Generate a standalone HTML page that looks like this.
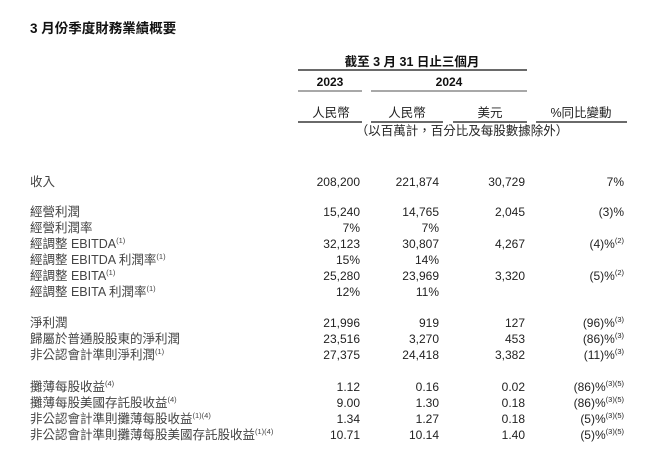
<!DOCTYPE html>
<html>
<head>
<meta charset="utf-8">
<style>
  html,body{margin:0;padding:0;background:#fff;}
  body{width:660px;height:450px;position:relative;overflow:hidden;
    font-family:"Liberation Sans","Noto Sans CJK TC","Noto Sans CJK SC",sans-serif;color:#2a2a2a;}
  .a{position:absolute;white-space:nowrap;line-height:16px;height:16px;}
  .lab{left:30px;font-size:12.5px;color:#444;}
  .n{font-size:12px;color:#222;text-align:right;}
  .c1{right:300px;}
  .c2{right:221px;}
  .c3{right:135px;}
  .c4{right:36px;}
  sup{font-size:7.5px;line-height:0;vertical-align:0;position:relative;top:-5px;}
  .ln{position:absolute;height:2px;}
  .dk{background:#6a6a6a;}
  .lt{background:#a8a8a8;}
  .ctr{transform:translateX(-50%);text-align:center;}
</style>
</head>
<body>
<div class="a" style="left:30px;top:21px;font-size:13.5px;font-weight:bold;color:#111;">3 月份季度財務業績概要</div>

<div class="a ctr" style="left:412px;top:54px;font-size:12.5px;font-weight:bold;color:#111;">截至 3 月 31 日止三個月</div>
<div class="ln dk" style="left:298px;width:229px;top:69px;"></div>

<div class="a ctr" style="left:330px;top:74px;font-size:12px;font-weight:bold;color:#111;">2023</div>
<div class="a ctr" style="left:449px;top:74px;font-size:12px;font-weight:bold;color:#111;">2024</div>
<div class="ln lt" style="left:298px;width:64px;top:90px;"></div>
<div class="ln lt" style="left:371px;width:156px;top:90px;"></div>

<div class="a ctr" style="left:331px;top:105px;font-size:12.5px;color:#222;">人民幣</div>
<div class="a ctr" style="left:407px;top:105px;font-size:12.5px;color:#222;">人民幣</div>
<div class="a ctr" style="left:490px;top:105px;font-size:12.5px;color:#222;">美元</div>
<div class="a ctr" style="left:581px;top:105px;font-size:12.5px;color:#222;">%同比變動</div>
<div class="ln dk" style="left:298px;width:64px;top:121px;"></div>
<div class="ln dk" style="left:371px;width:72px;top:121px;"></div>
<div class="ln dk" style="left:453px;width:74px;top:121px;"></div>
<div class="ln dk" style="left:536px;width:91px;top:121px;"></div>

<div class="a ctr" style="left:462px;top:123px;font-size:12.5px;color:#222;">（以百萬計，百分比及每股數據除外）</div>

<!-- rows -->
<div class="a lab" style="top:174px;">收入</div>
<div class="a n c1" style="top:174px;">208,200</div>
<div class="a n c2" style="top:174px;">221,874</div>
<div class="a n c3" style="top:174px;">30,729</div>
<div class="a n c4" style="top:174px;">7%</div>

<div class="a lab" style="top:204px;">經營利潤</div>
<div class="a n c1" style="top:204px;">15,240</div>
<div class="a n c2" style="top:204px;">14,765</div>
<div class="a n c3" style="top:204px;">2,045</div>
<div class="a n c4" style="top:204px;">(3)%</div>

<div class="a lab" style="top:220px;">經營利潤率</div>
<div class="a n c1" style="top:220px;">7%</div>
<div class="a n c2" style="top:220px;">7%</div>

<div class="a lab" style="top:236px;">經調整 EBITDA<sup>(1)</sup></div>
<div class="a n c1" style="top:236px;">32,123</div>
<div class="a n c2" style="top:236px;">30,807</div>
<div class="a n c3" style="top:236px;">4,267</div>
<div class="a n c4" style="top:236px;">(4)%<sup>(2)</sup></div>

<div class="a lab" style="top:252px;">經調整 EBITDA 利潤率<sup>(1)</sup></div>
<div class="a n c1" style="top:252px;">15%</div>
<div class="a n c2" style="top:252px;">14%</div>

<div class="a lab" style="top:268px;">經調整 EBITA<sup>(1)</sup></div>
<div class="a n c1" style="top:268px;">25,280</div>
<div class="a n c2" style="top:268px;">23,969</div>
<div class="a n c3" style="top:268px;">3,320</div>
<div class="a n c4" style="top:268px;">(5)%<sup>(2)</sup></div>

<div class="a lab" style="top:284px;">經調整 EBITA 利潤率<sup>(1)</sup></div>
<div class="a n c1" style="top:284px;">12%</div>
<div class="a n c2" style="top:284px;">11%</div>

<div class="a lab" style="top:315px;">淨利潤</div>
<div class="a n c1" style="top:315px;">21,996</div>
<div class="a n c2" style="top:315px;">919</div>
<div class="a n c3" style="top:315px;">127</div>
<div class="a n c4" style="top:315px;">(96)%<sup>(3)</sup></div>

<div class="a lab" style="top:331px;">歸屬於普通股股東的淨利潤</div>
<div class="a n c1" style="top:331px;">23,516</div>
<div class="a n c2" style="top:331px;">3,270</div>
<div class="a n c3" style="top:331px;">453</div>
<div class="a n c4" style="top:331px;">(86)%<sup>(3)</sup></div>

<div class="a lab" style="top:347px;">非公認會計準則淨利潤<sup>(1)</sup></div>
<div class="a n c1" style="top:347px;">27,375</div>
<div class="a n c2" style="top:347px;">24,418</div>
<div class="a n c3" style="top:347px;">3,382</div>
<div class="a n c4" style="top:347px;">(11)%<sup>(3)</sup></div>

<div class="a lab" style="top:379px;">攤薄每股收益<sup>(4)</sup></div>
<div class="a n c1" style="top:379px;">1.12</div>
<div class="a n c2" style="top:379px;">0.16</div>
<div class="a n c3" style="top:379px;">0.02</div>
<div class="a n c4" style="top:379px;">(86)%<sup>(3)(5)</sup></div>

<div class="a lab" style="top:395px;">攤薄每股美國存託股收益<sup>(4)</sup></div>
<div class="a n c1" style="top:395px;">9.00</div>
<div class="a n c2" style="top:395px;">1.30</div>
<div class="a n c3" style="top:395px;">0.18</div>
<div class="a n c4" style="top:395px;">(86)%<sup>(3)(5)</sup></div>

<div class="a lab" style="top:411px;">非公認會計準則攤薄每股收益<sup>(1)(4)</sup></div>
<div class="a n c1" style="top:411px;">1.34</div>
<div class="a n c2" style="top:411px;">1.27</div>
<div class="a n c3" style="top:411px;">0.18</div>
<div class="a n c4" style="top:411px;">(5)%<sup>(3)(5)</sup></div>

<div class="a lab" style="top:427px;">非公認會計準則攤薄每股美國存託股收益<sup>(1)(4)</sup></div>
<div class="a n c1" style="top:427px;">10.71</div>
<div class="a n c2" style="top:427px;">10.14</div>
<div class="a n c3" style="top:427px;">1.40</div>
<div class="a n c4" style="top:427px;">(5)%<sup>(3)(5)</sup></div>
</body>
</html>
